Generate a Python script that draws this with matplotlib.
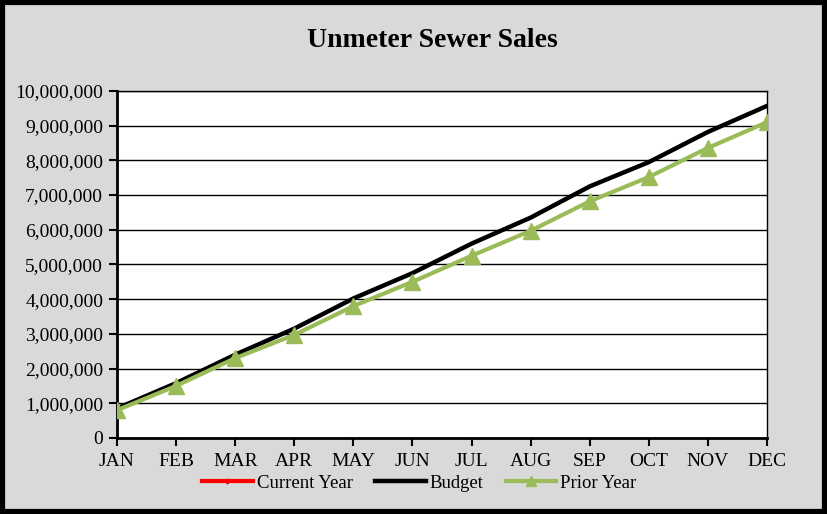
import matplotlib
matplotlib.use("Agg")
import matplotlib.pyplot as plt
from matplotlib.patches import Rectangle
from matplotlib.ticker import FuncFormatter

months = ["JAN", "FEB", "MAR", "APR", "MAY", "JUN", "JUL", "AUG", "SEP", "OCT", "NOV", "DEC"]
current_year = [850000]
budget = [850000, 1580000, 2400000, 3150000, 4020000, 4750000, 5600000, 6350000,
          7250000, 7950000, 8820000, 9570000]
prior_year = [800000, 1500000, 2300000, 2970000, 3800000, 4500000, 5250000, 5970000,
              6820000, 7520000, 8360000, 9100000]

plt.rcParams["font.family"] = ["Liberation Serif", "DejaVu Serif"]

fig = plt.figure(figsize=(8.27, 5.14), dpi=100)
fig.patch.set_facecolor("#d9d9d9")
fig.patches.append(Rectangle((0.003, 0.004), 0.994, 0.992, transform=fig.transFigure,
                             fill=False, edgecolor="black", linewidth=4.5))

ax = fig.add_axes([0.1415, 0.148, 0.786, 0.675])
ax.set_facecolor("white")
x = list(range(len(months)))

ax.plot(x, budget, color="black", linewidth=3.2, label="Budget", zorder=3)
ax.plot(x, prior_year, color="#9bbb59", linewidth=3, marker="^", markersize=11,
        label="Prior Year", zorder=4)
ax.plot(x[:len(current_year)], current_year, color="red", linewidth=3, marker="D",
        markersize=4, label="Current Year", zorder=2)

ax.set_xlim(0, 11)
ax.set_ylim(0, 10000000)
ax.set_yticks(range(0, 10000001, 1000000))
ax.yaxis.set_major_formatter(FuncFormatter(lambda v, p: f"{int(v):,}"))
ax.set_xticks(x)
ax.set_xticklabels(months)
ax.grid(axis="y", color="black", linewidth=1)
ax.set_axisbelow(True)
ax.tick_params(direction="out", length=6, width=1.5, labelsize=14, colors="black")
ax.tick_params(axis="y", pad=4)
ax.tick_params(axis="x", pad=5)
for s in ["left", "bottom"]:
    ax.spines[s].set_linewidth(2)
for s in ["top", "right"]:
    ax.spines[s].set_linewidth(1)

fig.text(0.523, 0.922, "Unmeter Sewer Sales", ha="center", va="center",
         fontsize=20, fontweight="bold")

h, l = ax.get_legend_handles_labels()
order = [2, 0, 1]
fig.legend([h[i] for i in order], [l[i] for i in order], loc="center",
           bbox_to_anchor=(0.507, 0.06), ncol=3, frameon=False, fontsize=13.5,
           handlelength=2.7, columnspacing=1.2, handletextpad=0.2, markerscale=0.6)

fig.savefig("out.png", dpi=100, facecolor=fig.get_facecolor())
